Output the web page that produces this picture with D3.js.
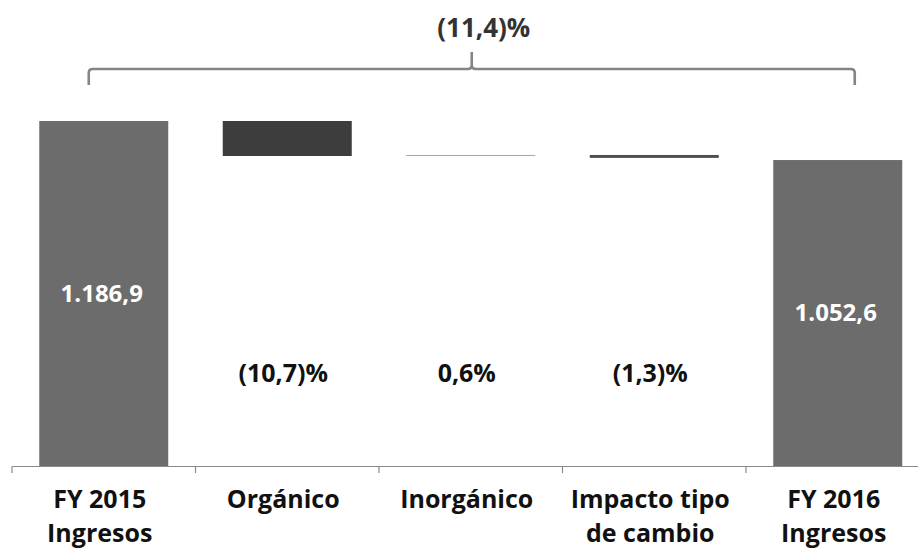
<!DOCTYPE html>
<html>
<head>
<meta charset="utf-8">
<script src="https://cdn.jsdelivr.net/npm/d3@7"></script>
<style>
  html, body { margin: 0; padding: 0; background: #fff; }
  svg { display: block; }
  text { font-family: "Open Sans", "Noto Sans", sans-serif; font-weight: 700; }
</style>
</head>
<body>
<svg id="chart" width="918" height="553"></svg>
<script>
// ---- data ----
const categories = ["FY 2015|Ingresos", "Orgánico", "Inorgánico", "Impacto tipo|de cambio", "FY 2016|Ingresos"];
const startValue = 1186.9;
const endValue = 1052.6;
const deltas = [-120.4, 3.5, -10.0];          // steps
const totalLabels = ["1.186,9", "1.052,6"];
const deltaLabels = ["(10,7)%", "0,6%", "(1,3)%"];
const totalChangeLabel = "(11,4)%";

// ---- build waterfall rows ----
const rows = [];
rows.push({ cat: categories[0], y0: 0, y1: startValue, kind: "total", label: totalLabels[0] });
let run = startValue;
deltas.forEach((d, i) => {
  rows.push({ cat: categories[i + 1], y0: run, y1: run + d, kind: "delta" + i, label: deltaLabels[i] });
  run += d;
});
rows.push({ cat: categories[4], y0: 0, y1: endValue, kind: "total", label: totalLabels[1] });

const fills = { total: "#6c6c6c", delta0: "#3d3d3d", delta1: "#a8a8a8", delta2: "#4e4e4e" };

const svg = d3.select("#chart");
const x = d3.scaleBand().domain(categories).range([12, 929.5]).padding(0);
const y = d3.scaleLinear().domain([0, startValue]).range([466, 121]);
const barW = x.bandwidth() * 0.703;

// bars
svg.append("g").selectAll("rect").data(rows).join("rect")
  .attr("x", d => x(d.cat) + (x.bandwidth() - barW) / 2)
  .attr("width", barW)
  .attr("y", d => y(Math.max(d.y0, d.y1)))
  .attr("height", d => Math.max(1, Math.abs(y(d.y0) - y(d.y1))))
  .attr("fill", d => fills[d.kind]);

// axis
const axis = d3.axisBottom(x).tickSize(0).tickFormat("");
const gAxis = svg.append("g").attr("transform", "translate(0,466)").call(axis);
gAxis.select(".domain").attr("stroke", "#8a8a8a").attr("stroke-width", 1.2);
// category boundary ticks
const bounds = categories.map(c => x(c));
gAxis.selectAll("line.bound").data(bounds).join("line")
  .attr("class", "bound")
  .attr("x1", d => d).attr("x2", d => d)
  .attr("y1", 0).attr("y2", 7)
  .attr("stroke", "#8a8a8a").attr("stroke-width", 1.2);

// category labels
const catG = svg.append("g");
categories.forEach(c => {
  const lines = c.split("|");
  const t = catG.append("text")
    .attr("x", x(c) + x.bandwidth() / 2 - 4)
    .attr("y", 508)
    .attr("text-anchor", "middle")
    .attr("font-size", 25)
    .attr("fill", "#111");
  lines.forEach((l, i) => {
    t.append("tspan").attr("x", x(c) + x.bandwidth() / 2 - 4).attr("dy", i === 0 ? 0 : 34).text(l);
  });
});

// total value labels (white, centred in bar)
svg.append("g").selectAll("text").data(rows.filter(r => r.kind === "total")).join("text")
  .attr("x", d => x(d.cat) + x.bandwidth() / 2 - 2)
  .attr("y", d => y(d.y1 / 2))
  .attr("dy", "0.35em")
  .attr("text-anchor", "middle")
  .attr("font-size", 24)
  .attr("fill", "#fff")
  .text(d => d.label);

// delta percent labels
svg.append("g").selectAll("text").data(rows.filter(r => r.kind !== "total")).join("text")
  .attr("x", d => x(d.cat) + x.bandwidth() / 2 - 4)
  .attr("y", 382)
  .attr("text-anchor", "middle")
  .attr("font-size", 25)
  .attr("fill", "#111")
  .text(d => d.label);

// brace over the whole change
const bx0 = x(categories[0]) + x.bandwidth() / 2 - 15;
const bx1 = x(categories[4]) + x.bandwidth() / 2 + 17;
const bxm = (bx0 + bx1) / 2;
const by = 69, bEnd = 85, bTop = 52, r = 4;
const p = d3.path();
p.moveTo(bx0, bEnd);
p.lineTo(bx0, by + r);
p.quadraticCurveTo(bx0, by, bx0 + r, by);
p.lineTo(bxm - r, by);
p.quadraticCurveTo(bxm, by, bxm, by - r);
p.lineTo(bxm, bTop);
p.moveTo(bxm, by - r);
p.quadraticCurveTo(bxm, by, bxm + r, by);
p.lineTo(bx1 - r, by);
p.quadraticCurveTo(bx1, by, bx1, by + r);
p.lineTo(bx1, bEnd);
svg.append("path").attr("d", p.toString())
  .attr("fill", "none").attr("stroke", "#858585").attr("stroke-width", 2.6);

svg.append("text")
  .attr("x", bxm + 12)
  .attr("y", 37)
  .attr("text-anchor", "middle")
  .attr("font-size", 26)
  .attr("fill", "#333")
  .text(totalChangeLabel);
</script>
</body>
</html>
